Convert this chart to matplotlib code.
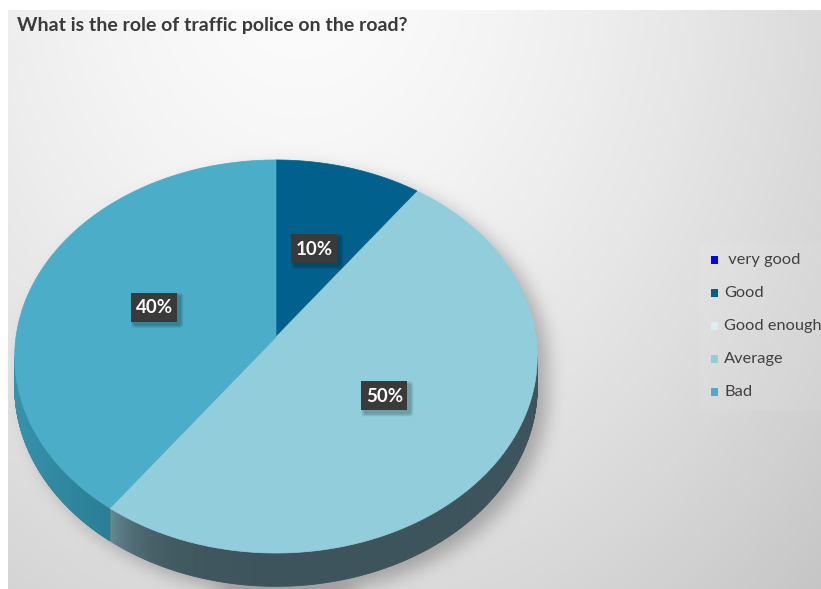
import numpy as np
import matplotlib
matplotlib.use("Agg")
import matplotlib.pyplot as plt
from matplotlib.path import Path
from matplotlib.patches import Polygon, Rectangle, FancyBboxPatch
from matplotlib.collections import PolyCollection

# ---- data -------------------------------------------------------------
title = "What is the role of traffic police on the road?"
categories = [" very good", "Good", "Good enough", "Average", "Bad"]
shares = [0, 10, 0, 50, 40]          # percent
top_colors = ["#0000ff", "#02618c", "#daeef3", "#92cddc", "#4badc7"]
side_light = ["#0000cc", "#024c6e", "#b0c8ce", "#668a93", "#3692ab"]
side_dark = ["#0000aa", "#013f5c", "#9cb4ba", "#3d545c", "#2a7d94"]

# ---- canvas -------------------------------------------------------------
W, H = 821, 589
fig = plt.figure(figsize=(W / 100, H / 100), dpi=100)
ax = fig.add_axes([0, 0, 1, 1])
ax.set_xlim(0, W)
ax.set_ylim(H, 0)
ax.axis("off")
plt.rcParams["font.family"] = ["Lato", "DejaVu Sans"]

# pie geometry (screen pixels) with a mild perspective
CX, CY = 276.0, 337.0
RA, RB = 260.0, 194.6
K = 0.0992
DEPTH = 30.0


def rim(theta, drop=0.0, r=1.0):
    u = r * np.sin(theta)
    v = r * np.cos(theta)
    s = 1.0 / (1.0 + K * v)
    return CX + RA * u * s, CY - RB * v * s + drop * s


def blur(a, sigma):
    rad = int(3 * sigma)
    k = np.exp(-0.5 * (np.arange(-rad, rad + 1) / sigma) ** 2)
    k /= k.sum()
    out = np.zeros_like(a)
    p = np.pad(a, ((0, 0), (rad, rad)), mode="edge")
    for i, w in enumerate(k):
        out += w * p[:, i:i + a.shape[1]]
    p = np.pad(out, ((rad, rad), (0, 0)), mode="edge")
    out2 = np.zeros_like(a)
    for i, w in enumerate(k):
        out2 += w * p[i:i + a.shape[0], :]
    return out2


# ---- background with soft drop shadow ---------------------------------
left, top = 8, 10
yy, xx = np.mgrid[0:H, 0:W].astype(float)
r = np.sqrt(((xx - 300) / 500.0) ** 2 + ((yy + 40) / 615.0) ** 2)
bg = 252 - 31 * r ** 1.5

full = np.linspace(0, 2 * np.pi, 721)
tx, ty = rim(full)
bx, by = rim(full, DEPTH)
pts = np.column_stack([xx.ravel(), yy.ravel()])
off = np.array([10.0, 8.0])
mask = (Path(np.column_stack([tx, ty]) + off).contains_points(pts)
        | Path(np.column_stack([bx, by]) + off).contains_points(pts))
mask = mask.reshape(H, W).astype(float)

shadow = blur(mask, 9.0)
bg = bg * (1 - 0.26 * shadow)
bg[:top, :] = 255
bg[:, :left] = 255
img = np.dstack([bg, bg, bg]) / 255.0
ax.imshow(np.clip(img, 0, 1), extent=(0, W, H, 0), interpolation="bilinear",
          zorder=0)

# ---- pie: sides -----------------------------------------------------------
fine = np.linspace(0, 2 * np.pi, 2001)
fx, _ = rim(fine)
th_right = fine[np.argmax(fx)]
th_left = fine[np.argmin(fx)]

bounds = np.concatenate([[0], np.cumsum(shares)]) / 100.0 * 2 * np.pi


def to_rgb(c):
    return np.array(matplotlib.colors.to_rgb(c))


for i, share in enumerate(shares):
    if share == 0:
        continue
    a0, a1 = max(bounds[i], th_right), min(bounds[i + 1], th_left)
    if a1 <= a0:
        continue
    ts = np.linspace(a0, a1, 240)
    x0, y0 = rim(ts)
    x1, y1 = rim(ts, DEPTH)
    xl = x0.min()
    light, dark = to_rgb(side_light[i]), to_rgb(side_dark[i])
    quads, cols = [], []
    for j in range(len(ts) - 1):
        quads.append([(x0[j], y0[j]), (x0[j + 1], y0[j + 1]),
                      (x1[j + 1], y1[j + 1]), (x1[j], y1[j])])
        xm = 0.5 * (x0[j] + x0[j + 1])
        if i == 3:
            f = np.exp(-(xm - xl) / 30.0)
        else:
            f = 1 - (xm - xl) / max(x0.max() - xl, 1)
        cols.append(dark + (light - dark) * f)
    ax.add_collection(PolyCollection(quads, facecolors=cols,
                                     edgecolors=cols, linewidths=0.6,
                                     zorder=2))

# ---- pie: top faces -------------------------------------------------------
for i, share in enumerate(shares):
    if share == 0:
        continue
    ts = np.linspace(bounds[i], bounds[i + 1], 300)
    x, y = rim(ts)
    poly = np.vstack([[CX, CY], np.column_stack([x, y])])
    ax.add_patch(Polygon(poly, closed=True, facecolor=top_colors[i],
                         edgecolor=top_colors[i], linewidth=0.5, zorder=3))

# ---- value labels -------------------------------------------------------
for i, share in enumerate(shares):
    if share == 0:
        continue
    mid = 0.5 * (bounds[i] + bounds[i + 1])
    lx, ly = rim(mid, r=0.5)
    bw, bh = 46, 29
    # soft shadow under the label box
    for g in range(5, 0, -1):
        ax.add_patch(FancyBboxPatch((lx - bw / 2 + 3 - g * 0.6,
                                     ly - bh / 2 + 3 - g * 0.6),
                                    bw + g * 1.2, bh + g * 1.2,
                                    boxstyle="round,pad=0,rounding_size=3",
                                    facecolor="#000000", alpha=0.05,
                                    lw=0, zorder=4))
    ax.add_patch(Rectangle((lx - bw / 2, ly - bh / 2), bw, bh,
                           facecolor="#3b3a3a", lw=0, zorder=5))
    ax.text(lx, ly + 0.5, f"{share}%", color="white", fontsize=13.5,
            fontweight="bold", ha="center", va="center", zorder=6)

# ---- legend ---------------------------------------------------------------
ax.add_patch(Rectangle((700, 243), 125, 168, facecolor="white", alpha=0.07,
                       lw=0, zorder=1))
leg_y0, leg_dy = 260, 33
for i, name in enumerate(categories):
    y = leg_y0 + i * leg_dy
    ax.add_patch(Rectangle((711, y - 4), 7, 8, facecolor=top_colors[i],
                           lw=0, zorder=5))
    ax.text(724, y, name, color="#404040", fontsize=11.8, ha="left",
            va="center", zorder=6)

# ---- title ----------------------------------------------------------------
ax.text(17, 25, title, color="#3a3a3a", fontsize=14, fontweight="bold",
        ha="left", va="center", zorder=6)

fig.savefig("out.png", dpi=100)
